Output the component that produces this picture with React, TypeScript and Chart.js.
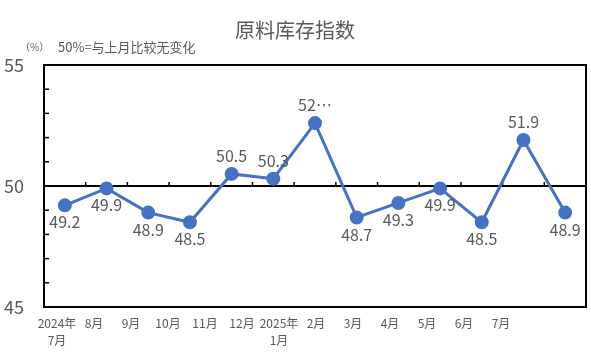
import React, { useEffect, useRef } from "react";
import { Chart, registerables } from "chart.js";

Chart.register(...registerables);

const categories = ["2024年7月", "8月", "9月", "10月", "11月", "12月", "2025年1月", "2月", "3月", "4月", "5月", "6月", "7月"];
const tickLabels: (string | string[])[] = [["2024年", "7月"], "8月", "9月", "10月", "11月", "12月", ["2025年", "1月"], "2月", "3月", "4月", "5月", "6月", "7月"];
const values = [49.2, 49.9, 48.9, 48.5, 50.5, 50.3, 52.6, 48.7, 49.3, 49.9, 48.5, 51.9, 48.9];
const valueLabels = ["49.2", "49.9", "48.9", "48.5", "50.5", "50.3", "52…", "48.7", "49.3", "49.9", "48.5", "51.9", "48.9"];
const yTicks = [45, 50, 55];
const yMinorTicks = [46, 47, 48, 49, 51, 52, 53, 54];
const baseline = 50;

const TITLE = "原料库存指数";
const UNIT = "（%）";
const NOTE = "50%=与上月比较无变化";

const FONT = "'Noto Sans CJK SC', 'Noto Sans', sans-serif";
const GRAY = "#595959";
const BLUE = "#4472C4";

const LABEL_FIRST_OFFSET = 13;
const LABEL_STEP = 37;
const PLOT_WIDTH = 542;

const overlay = {
  id: "overlay",
  beforeDatasetsDraw(chart: any) {
    const { ctx, chartArea } = chart;
    const y = chart.scales.y;
    const x = chart.scales.x;
    ctx.save();
    ctx.strokeStyle = "#000";
    const yb = y.getPixelForValue(baseline);
    ctx.lineWidth = 2;
    ctx.beginPath();
    ctx.moveTo(chartArea.left, yb);
    ctx.lineTo(chartArea.right, yb);
    ctx.stroke();
    ctx.lineWidth = 1.5;
    for (let i = 1; i < categories.length; i++) {
      const px = (x.getPixelForValue(i - 1) + x.getPixelForValue(i)) / 2;
      ctx.beginPath();
      ctx.moveTo(px, yb);
      ctx.lineTo(px, yb - 4);
      ctx.stroke();
    }
    for (const v of yMinorTicks) {
      const py = y.getPixelForValue(v);
      ctx.beginPath();
      ctx.moveTo(chartArea.left, py);
      ctx.lineTo(chartArea.left + 5, py);
      ctx.stroke();
    }
    ctx.lineWidth = 2;
    ctx.strokeRect(chartArea.left, chartArea.top, chartArea.right - chartArea.left, chartArea.bottom - chartArea.top);
    ctx.restore();
  },
  afterDatasetsDraw(chart: any) {
    const { ctx } = chart;
    const meta = chart.getDatasetMeta(0);
    ctx.save();
    ctx.fillStyle = GRAY;
    ctx.font = `16px ${FONT}`;
    ctx.textAlign = "center";
    ctx.textBaseline = "middle";
    meta.data.forEach((pt: any, i: number) => {
      const above = values[i] > baseline;
      ctx.fillText(valueLabels[i], pt.x, above ? pt.y - 18 : pt.y + 17);
    });
    ctx.restore();
  },
  afterDraw(chart: any) {
    const { ctx } = chart;
    ctx.save();
    ctx.fillStyle = GRAY;
    ctx.textBaseline = "middle";
    ctx.textAlign = "center";
    ctx.font = `20px ${FONT}`;
    ctx.fillText(TITLE, 295, 30);
    ctx.textAlign = "left";
    ctx.font = `10px ${FONT}`;
    ctx.fillText(UNIT, 20, 47);
    ctx.font = `13px ${FONT}`;
    ctx.fillText(NOTE, 58, 47);
    ctx.restore();
  },
};

export default function App() {
  const ref = useRef<HTMLCanvasElement | null>(null);
  useEffect(() => {
    document.body.style.margin = "0";
    document.body.style.overflow = "hidden";
    if (!ref.current) return;
    const chart = new Chart(ref.current, {
      type: "line",
      data: {
        labels: categories,
        datasets: [
          {
            data: values,
            borderColor: BLUE,
            backgroundColor: BLUE,
            borderWidth: 3,
            pointRadius: 5.5,
            pointBackgroundColor: BLUE,
            pointBorderColor: BLUE,
            tension: 0,
          },
        ],
      },
      options: {
        animation: false,
        responsive: false,
        devicePixelRatio: 1,
        layout: { autoPadding: false, padding: { top: 65, right: 5, left: 0, bottom: 0 } },
        plugins: { legend: { display: false }, title: { display: false }, tooltip: { enabled: false } },
        scales: {
          x: {
            type: "category",
            display: false,
            offset: true,
          },
          x2: {
            type: "linear",
            position: "bottom",
            min: -LABEL_FIRST_OFFSET / LABEL_STEP,
            max: (PLOT_WIDTH - LABEL_FIRST_OFFSET) / LABEL_STEP,
            grid: { display: false, drawTicks: false },
            border: { display: false },
            afterBuildTicks: (scale: any) => {
              scale.ticks = tickLabels.map((_, i) => ({ value: i }));
            },
            afterFit: (scale: any) => {
              scale.height = 47;
              scale.paddingLeft = 0;
              scale.paddingRight = 0;
            },
            ticks: {
              autoSkip: false,
              maxRotation: 0,
              minRotation: 0,
              padding: 8,
              color: GRAY,
              font: { size: 12, family: FONT, lineHeight: 1.4 },
              callback: (_v: any, i: number) => tickLabels[i],
            },
          },
          y: {
            type: "linear",
            min: 45,
            max: 55,
            grid: { display: false, drawTicks: false },
            border: { display: false },
            afterBuildTicks: (scale: any) => {
              scale.ticks = yTicks.map((v) => ({ value: v }));
            },
            afterFit: (scale: any) => {
              scale.width = 44;
            },
            ticks: {
              padding: 20,
              color: GRAY,
              font: { size: 18, family: FONT },
            },
          },
        },
      },
      plugins: [overlay],
    });
    return () => chart.destroy();
  }, []);
  return (
    <div style={{ position: "absolute", left: 0, top: 0, width: 591, height: 354 }}>
      <canvas ref={ref} width={591} height={354} style={{ display: "block" }} />
    </div>
  );
}
